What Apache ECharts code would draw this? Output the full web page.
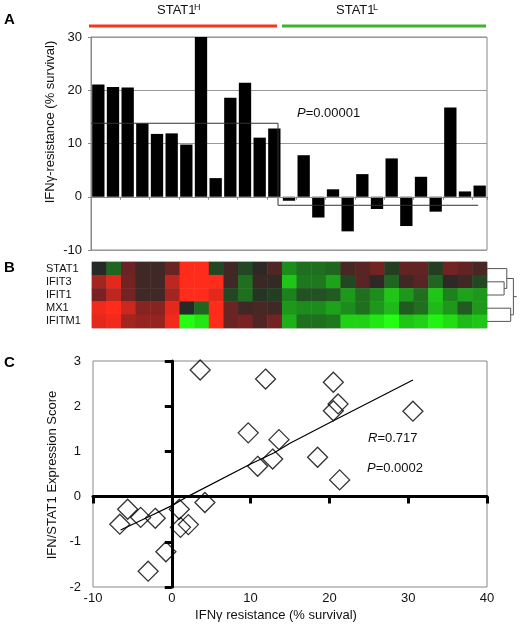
<!DOCTYPE html>
<html>
<head>
<meta charset="utf-8">
<script src="https://cdn.jsdelivr.net/npm/echarts@6/dist/echarts.min.js"></script>
<style>
html,body{margin:0;padding:0;background:#fff;}
#c{width:522px;height:628px;}
</style>
</head>
<body>
<div id="c"></div>
<script>
// ---------- Panel A data ----------
var cellLines = [];
for (var i = 1; i <= 27; i++) cellLines.push(String(i));
var resistance = [21.1, 20.6, 20.5, 13.8, 11.8, 11.9, 9.8, 30, 3.5, 18.6, 21.4, 11.1, 12.8,
                  -0.75, 7.8, -3.9, 1.4, -6.5, 4.25, -2.3, 7.2, -5.5, 3.75, -2.8, 16.75, 1.0, 2.1];
var groupLineX = [0, 12.75, 12.75, 26.4];
var groupLineY = [13.8, 13.8, -1.6, -1.6];

// ---------- Panel B data ----------
var genes = ['STAT1', 'IFIT3', 'IFIT1', 'MX1', 'IFITM1'];
var exprSTAT1 = [0.0, -0.3, 0.4, 0.15, 0.15, 0.4, 1.0, 1.0, -0.15, 0.15, -0.15, 0.05, 0.25,
                 -0.5, -0.35, -0.35, -0.3, 0.2, 0.3, 0.45, -0.1, 0.35, 0.35, -0.1, 0.45, 0.35, 0.2];
var exprIFIT3 = [0.65, 0.9, 0.45, 0.15, 0.15, 0.75, 1.0, 1.0, 1.0, 0.15, -0.35, 0.12, 0.08,
                 -0.75, -0.4, -0.4, -0.6, -0.15, 0.3, 0.05, -0.3, 0.15, 0.3, -0.3, 0.05, 0.15, -0.15];
var exprIFIT1 = [0.5, 0.75, 0.45, 0.15, 0.15, 0.65, 1.0, 1.0, 0.9, -0.15, -0.35, -0.05, -0.1,
                 -0.45, -0.2, -0.2, -0.25, -0.55, -0.35, -0.5, -0.75, -0.55, -0.35, -0.75, -0.45, -0.6, -0.55];
var exprMX1 = [0.95, 1.0, 0.8, 0.55, 0.55, 0.9, 0.0, -0.3, 1.0, 0.4, 0.15, 0.2, 0.15,
               -0.55, -0.5, -0.5, -0.6, -0.5, -0.35, -0.55, -0.7, -0.25, -0.35, -0.7, -0.55, -0.25, -0.55];
var exprIFITM1 = [0.9, 0.95, 0.65, 0.6, 0.6, 0.95, -1.0, -0.9, 1.0, 0.4, 0.5, 0.25, 0.45,
                  -0.65, -0.35, -0.35, -0.4, -0.8, -0.8, -0.9, -1.0, -0.75, -0.8, -0.95, -0.85, -0.7, -0.75];
// dendrogram merges: [rowA, rowB, heightA, heightB, mergeHeight]
var dendroMerges = [
  [1.5, 2.5, 0, 0, 0.57],
  [0.5, 2.0, 0, 0.57, 0.66],
  [3.5, 4.5, 0, 0, 0.79],
  [1.25, 4.0, 0.66, 0.79, 0.88]
];
var dendroRoot = [2.625, 0.88, 0.99];

// ---------- Panel C data ----------
var scatterX = [3.6, 11.9, 9.7, 13.6, 12.8, 10.9, 4.2, -5.6, -3.95, -2.1, -6.6, 0.95, 2.1, 1.1, -0.75, -3.0,
                20.5, 21.1, 20.5, 30.6, 18.5, 21.3];
var scatterY = [2.8, 2.6, 1.41, 1.26, 0.83, 0.67, -0.13, -0.28, -0.46, -0.48, -0.61, -0.28, -0.62, -0.68, -1.22, -1.65,
                2.53, 2.05, 1.9, 1.89, 0.87, 0.37];
var trendX = [-6.5, -3, 0, 2, 10, 13, 15, 20.5, 30.6];
var trendY = [-0.74, -0.45, -0.2, 0.0, 0.72, 0.97, 1.18, 1.68, 2.58];

// ---------- build ----------
var FONT = "'Liberation Sans', Arial, sans-serif";
var exprRows = [exprSTAT1, exprIFIT3, exprIFIT1, exprMX1, exprIFITM1];
var heatData = [];
exprRows.forEach(function (row, r) {
  row.forEach(function (v, c) { heatData.push([c, r, v]); });
});
var stepData = groupLineX.map(function (x, i) { return [x, groupLineY[i]]; });
var scatData = scatterX.map(function (x, i) { return [x, scatterY[i]]; });
var trendData = trendX.map(function (x, i) { return [x, trendY[i]]; });

var chart = echarts.init(document.getElementById('c'), null, {renderer: 'canvas'});

var gridA = {left: 91, top: 37, width: 396, height: 213, show: true, borderColor: '#888', borderWidth: 1, backgroundColor: 'transparent'};
var gridB = {left: 92, top: 262, width: 395, height: 66, show: true, borderColor: '#bbb', borderWidth: 1};
var gridD = {left: 487, top: 262, width: 30, height: 66};
var gridC = {left: 93, top: 361, width: 394, height: 226, show: true, borderColor: '#888', borderWidth: 1};
var gridC2 = {left: 93, top: 361, width: 394, height: 226};

function seg(a, b) {
  return {type: 'line', shape: {x1: a[0], y1: a[1], x2: b[0], y2: b[1]},
          style: {stroke: '#555', lineWidth: 1, fill: 'none'}};
}

var option = {
  backgroundColor: '#fff',
  animation: false,
  textStyle: {fontFamily: FONT},
  grid: [gridA, gridB, gridD, gridC, gridC2],
  visualMap: {
    show: false, type: 'continuous', min: -1, max: 1, seriesIndex: 2, dimension: 2,
    inRange: {color: ['#22ff11', '#1c8c1c', '#262a26', '#7a2222', '#ff2b1b']}
  },
  xAxis: [
    {gridIndex: 0, type: 'category', data: cellLines, boundaryGap: true,
     axisLine: {onZero: true, lineStyle: {color: '#888', width: 1}},
     axisTick: {show: true, length: 3, lineStyle: {color: '#888'}},
     axisLabel: {show: false}, splitLine: {show: false}, z: 5},
    {gridIndex: 0, type: 'value', min: 0, max: 27, show: false},
    {gridIndex: 1, type: 'category', data: cellLines, show: false},
    {gridIndex: 2, type: 'value', min: 0, max: 1, show: false},
    {gridIndex: 3, type: 'value', min: -10, max: 40, interval: 10,
     axisLine: {show: false, onZero: false}, axisTick: {show: false},
     axisLabel: {fontSize: 13, color: '#111', margin: 5, fontFamily: FONT}, splitLine: {show: false}},
    {gridIndex: 4, type: 'value', min: -10, max: 40, interval: 10,
     axisLine: {onZero: true, lineStyle: {color: '#000', width: 3}},
     axisTick: {show: true, length: 7, lineStyle: {color: '#000', width: 3}},
     axisLabel: {show: false}, splitLine: {show: false}}
  ],
  yAxis: [
    {gridIndex: 0, type: 'value', min: -10, max: 30, interval: 10,
     axisLine: {show: true, onZero: false, lineStyle: {color: '#888'}},
     axisTick: {show: true, length: 3, lineStyle: {color: '#888'}},
     axisLabel: {fontSize: 13, color: '#111', margin: 9, fontFamily: FONT},
     splitLine: {show: true, lineStyle: {color: '#999', width: 1}}},
    {gridIndex: 1, type: 'category', data: genes, inverse: true,
     axisLine: {show: false}, axisTick: {show: false},
     axisLabel: {interval: 0, fontSize: 11, color: '#111', align: 'left', margin: 46, fontFamily: FONT}},
    {gridIndex: 2, type: 'value', min: 0, max: 5, inverse: true, show: false},
    {gridIndex: 3, type: 'value', min: -2, max: 3, interval: 1,
     axisLine: {show: false, onZero: false}, axisTick: {show: false},
     axisLabel: {fontSize: 13, color: '#111', margin: 12, fontFamily: FONT}, splitLine: {show: false}},
    {gridIndex: 4, type: 'value', min: -2, max: 3, interval: 1,
     axisLine: {onZero: true, lineStyle: {color: '#000', width: 3}},
     axisTick: {show: true, length: 7, lineStyle: {color: '#000', width: 3}},
     axisLabel: {show: false}, splitLine: {show: false}}
  ],
  series: [
    {type: 'bar', xAxisIndex: 0, yAxisIndex: 0, data: resistance, barCategoryGap: '16%',
     itemStyle: {color: '#000'}, z: 3},
    {type: 'line', xAxisIndex: 1, yAxisIndex: 0, data: stepData, symbol: 'none',
     lineStyle: {color: '#333', width: 1}, z: 4},
    {type: 'heatmap', xAxisIndex: 2, yAxisIndex: 1, data: heatData, itemStyle: {borderWidth: 0}},
    {type: 'custom', xAxisIndex: 3, yAxisIndex: 2, data: dendroMerges, clip: false,
     encode: {x: [2, 3, 4], y: [0, 1]},
     renderItem: function (params, api) {
       var yA = api.value(0), yB = api.value(1), hA = api.value(2), hB = api.value(3), h = api.value(4);
       var p1 = api.coord([hA, yA]), p2 = api.coord([h, yA]), p3 = api.coord([h, yB]), p4 = api.coord([hB, yB]);
       return {type: 'group', children: [seg(p1, p2), seg(p2, p3), seg(p3, p4)]};
     }},
    {type: 'custom', xAxisIndex: 3, yAxisIndex: 2, data: [dendroRoot], clip: false,
     encode: {x: [1, 2], y: [0]},
     renderItem: function (params, api) {
       var a = api.coord([api.value(1), api.value(0)]), b = api.coord([api.value(2), api.value(0)]);
       return seg(a, b);
     }},
    {type: 'line', xAxisIndex: 5, yAxisIndex: 4, data: trendData, symbol: 'none',
     lineStyle: {color: '#000', width: 1.2}, z: 4},
    {type: 'scatter', xAxisIndex: 5, yAxisIndex: 4, data: scatData, symbol: 'diamond', symbolSize: 20,
     itemStyle: {color: 'rgba(255,255,255,0)', borderColor: '#000', borderWidth: 1.3}, z: 5}
  ],
  graphic: [
    {type: 'text', x: 4, y: 20, style: {text: 'A', font: 'bold 15px ' + FONT, fill: '#000', verticalAlign: 'middle'}},
    {type: 'text', x: 4, y: 268, style: {text: 'B', font: 'bold 15px ' + FONT, fill: '#000', verticalAlign: 'middle'}},
    {type: 'text', x: 4, y: 363, style: {text: 'C', font: 'bold 15px ' + FONT, fill: '#000', verticalAlign: 'middle'}},
    {type: 'text', x: 157, y: 10, style: {text: 'STAT1', font: '13px ' + FONT, fill: '#111', verticalAlign: 'middle'}},
    {type: 'text', x: 194, y: 7.5, style: {text: 'H', font: '9px ' + FONT, fill: '#111', verticalAlign: 'middle'}},
    {type: 'text', x: 336, y: 10, style: {text: 'STAT1', font: '13px ' + FONT, fill: '#111', verticalAlign: 'middle'}},
    {type: 'text', x: 373, y: 7.5, style: {text: 'L', font: '9px ' + FONT, fill: '#111', verticalAlign: 'middle'}},
    {type: 'rect', shape: {x: 89, y: 24.5, width: 188, height: 3}, style: {fill: '#f5361c'}},
    {type: 'rect', shape: {x: 282, y: 24.5, width: 204, height: 3}, style: {fill: '#3db529'}},
    {type: 'text', x: 50, y: 122, rotation: Math.PI / 2,
     style: {text: 'IFNγ-resistance (% survival)', font: '13px ' + FONT, fill: '#111', align: 'center', verticalAlign: 'middle'}},
    {type: 'text', x: 297, y: 113,
     style: {text: '{i|P}{n|=0.00001}', fill: '#111', verticalAlign: 'middle', font: '13px ' + FONT,
             rich: {i: {fontStyle: 'italic', fontSize: 13, fontFamily: FONT, fill: '#111'},
                    n: {fontSize: 13, fontFamily: FONT, fill: '#111'}}}},
    {type: 'text', x: 368, y: 438,
     style: {text: '{i|R}{n|=0.717}', fill: '#111', verticalAlign: 'middle', font: '13px ' + FONT,
             rich: {i: {fontStyle: 'italic', fontSize: 13, fontFamily: FONT, fill: '#111'},
                    n: {fontSize: 13, fontFamily: FONT, fill: '#111'}}}},
    {type: 'text', x: 367, y: 468,
     style: {text: '{i|P}{n|=0.0002}', fill: '#111', verticalAlign: 'middle', font: '13px ' + FONT,
             rich: {i: {fontStyle: 'italic', fontSize: 13, fontFamily: FONT, fill: '#111'},
                    n: {fontSize: 13, fontFamily: FONT, fill: '#111'}}}},
    {type: 'text', x: 52, y: 475, rotation: Math.PI / 2,
     style: {text: 'IFN/STAT1 Expression Score', font: '13px ' + FONT, fill: '#111', align: 'center', verticalAlign: 'middle'}},
    {type: 'text', x: 276, y: 615,
     style: {text: 'IFNγ resistance (% survival)', font: '13px ' + FONT, fill: '#111', align: 'center', verticalAlign: 'middle'}}
  ]
};
chart.setOption(option);
</script>
</body>
</html>
